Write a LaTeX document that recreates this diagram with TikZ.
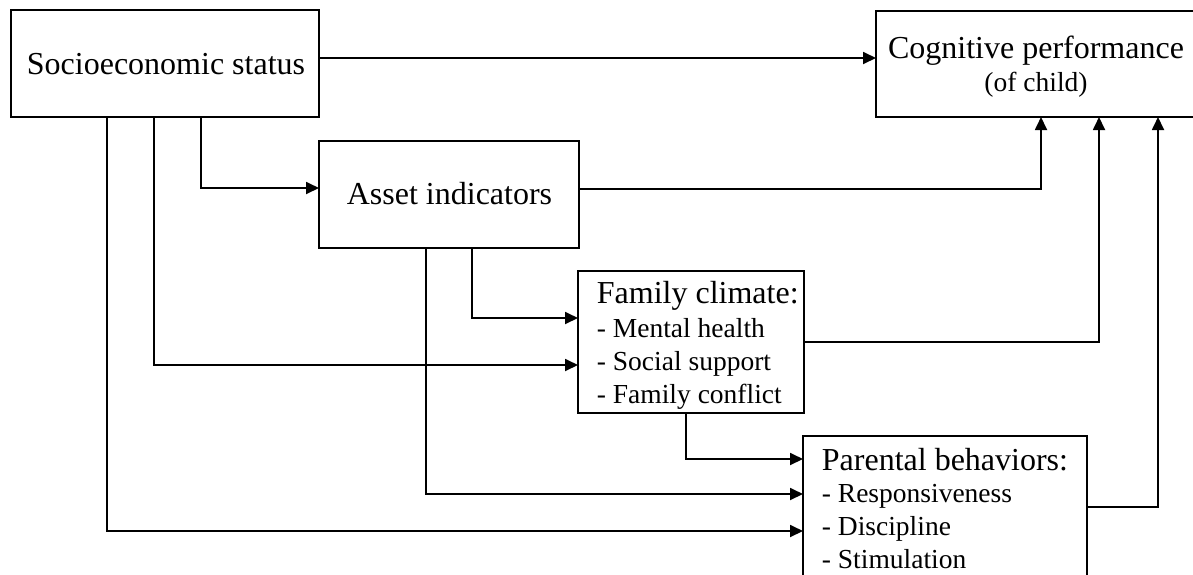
\documentclass[tikz,border=0pt]{standalone}
\usepackage{fontspec}
\setmainfont{Liberation Serif}
\usetikzlibrary{arrows.meta}
\begin{document}
\begin{tikzpicture}[x=1pt,y=-1pt,line width=1.8pt,
  box/.style={draw,line width=1.8pt,inner sep=0pt,outer sep=0pt},
  big/.style={font=\fontsize{32}{38}\selectfont,inner sep=0pt},
  small/.style={font=\fontsize{27.5}{33}\selectfont,inner sep=0pt},
  arr/.style={-{Triangle[length=13pt,width=12pt]},line width=1.8pt}]
\useasboundingbox (0,0) rectangle (1193,574);
% boxes
\node[box,minimum width=308pt,minimum height=107pt] (ses) at (165,63.5) {};
\node[box,minimum width=334pt,minimum height=106pt] (cog) at (1043,64) {};
\node[box,minimum width=260pt,minimum height=107pt] (asset) at (449,194.5) {};
\node[box,minimum width=226pt,minimum height=142pt] (fam) at (691,342) {};
\node[box,minimum width=284pt,minimum height=174pt] (par) at (945,523) {};
% texts
\node[big,anchor=base] (sest) at (166,74) {Socioeconomic status};
\node[big,anchor=base] (cogt) at (1036,58) {Cognitive performance};
\node[small,anchor=base] (cogs) at (1036,91) {(of child)};
\node[big,anchor=base] (asst) at (449.5,204) {Asset indicators};
\node[big,anchor=base west] (famt) at (596,303) {Family climate:};
\node[small,anchor=base west] (fam1) at (596,337) {- Mental health};
\node[small,anchor=base west] (fam2) at (596,370) {- Social support};
\node[small,anchor=base west] (fam3) at (596,403) {- Family conflict};
\node[big,anchor=base west] (part) at (821,470) {Parental behaviors:};
\node[small,anchor=base west] (par1) at (821,502) {- Responsiveness};
\node[small,anchor=base west] (par2) at (821,535) {- Discipline};
\node[small,anchor=base west] (par3) at (821,568) {- Stimulation};
% connectors
\draw[arr] (ses.east |- 0,58) -- (cog.west |- 0,58);
\draw[arr] (ses.south -| 201,0) |- (asset.west |- 0,188);
\draw[arr] (ses.south -| 154,0) |- (fam.west |- 0,365);
\draw[arr] (ses.south -| 107,0) |- (par.west |- 0,531);
\draw[arr] (asset.east |- 0,189) -| (cog.south -| 1041,0);
\draw[arr] (asset.south -| 472,0) |- (fam.west |- 0,318);
\draw[arr] (asset.south -| 426,0) |- (par.west |- 0,494);
\draw[arr] (fam.east |- 0,342) -| (cog.south -| 1099,0);
\draw[arr] (fam.south -| 686,0) |- (par.west |- 0,459);
\draw[arr] (par.east |- 0,507) -| (cog.south -| 1158,0);
\end{tikzpicture}
\end{document}
